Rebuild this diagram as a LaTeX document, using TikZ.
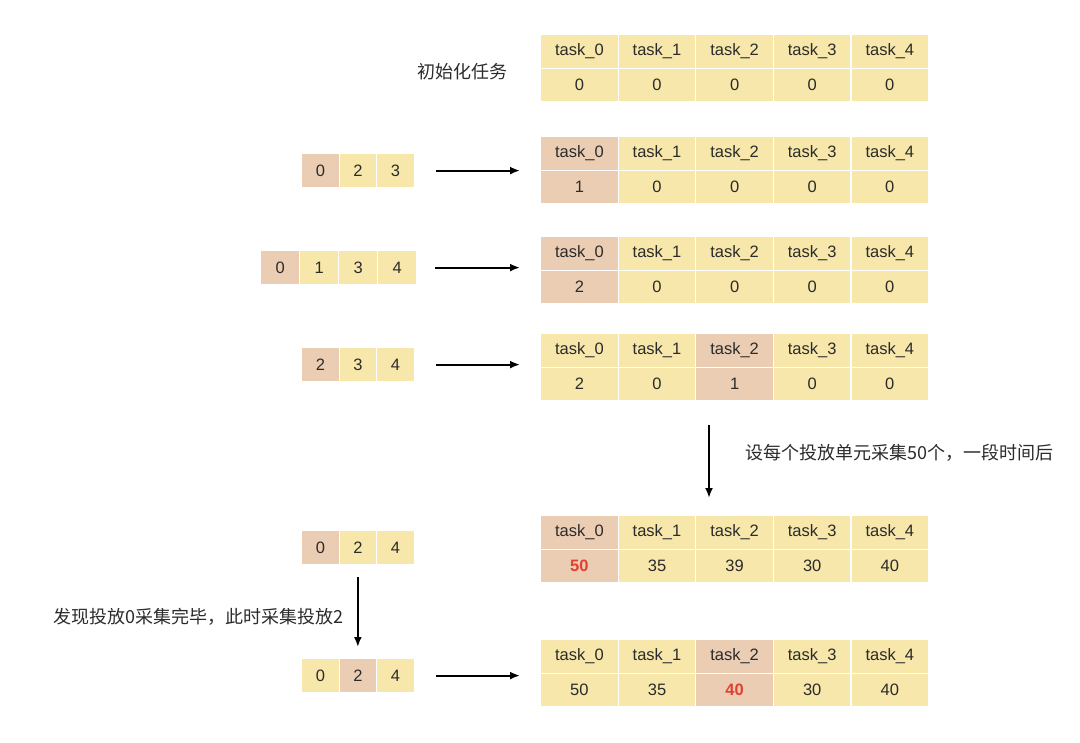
\documentclass[tikz,border=0pt]{standalone}
\usepackage{fontspec}
\setmainfont{Liberation Sans}
\newfontfamily\cjk{Noto Sans CJK SC}
\usetikzlibrary{arrows.meta}
\definecolor{cellY}{HTML}{F7E7AA}
\definecolor{cellP}{HTML}{EBCDB4}
\definecolor{txt}{HTML}{2B2B2B}
\definecolor{hot}{HTML}{E2412F}
\tikzset{
  cellbox/.style={draw=white, line width=1.2pt, minimum width=77.6pt, minimum height=33.6pt, inner sep=0pt, anchor=north west, text=txt, font=\fontsize{16.5}{19}\selectfont, fill=cellY},
  smallbox/.style={draw=white, line width=1.2pt, minimum width=37.5pt, minimum height=34pt, inner sep=0pt, anchor=north west, text=txt, font=\fontsize{16.5}{19}\selectfont, fill=cellY},
  pk/.style={fill=cellP},
  hl/.style={text=hot, font=\fontsize{16.5}{19}\selectfont\bfseries},
  note/.style={text=txt, font=\cjk\fontsize{18}{21}\selectfont, inner sep=0pt},
  arr/.style={line width=2pt, -{Latex[length=10pt,width=8pt]}},
}
\begin{document}
\begin{tikzpicture}[x=1pt,y=-1pt]
\useasboundingbox (0,0) rectangle (1080,743);
% Table 1
\foreach \i/\v in {0/0,1/0,2/0,3/0,4/0}{
  \node[cellbox] (t1h\i) at (540+77.6*\i,34) {task\_\i};
  \node[cellbox] (t1v\i) at (540+77.6*\i,67.6) {\v};
}
% Table 2
\foreach \i/\v/\s in {0/1/pk,1/0/,2/0/,3/0/,4/0/}{
  \node[cellbox,\s] (t2h\i) at (540+77.6*\i,136) {task\_\i};
  \node[cellbox,\s] (t2v\i) at (540+77.6*\i,169.6) {\v};
}
% Table 3
\foreach \i/\v/\s in {0/2/pk,1/0/,2/0/,3/0/,4/0/}{
  \node[cellbox,\s] (t3h\i) at (540+77.6*\i,236) {task\_\i};
  \node[cellbox,\s] (t3v\i) at (540+77.6*\i,269.6) {\v};
}
% Table 4
\foreach \i/\v/\s in {0/2/,1/0/,2/1/pk,3/0/,4/0/}{
  \node[cellbox,\s] (t4h\i) at (540+77.6*\i,333) {task\_\i};
  \node[cellbox,\s] (t4v\i) at (540+77.6*\i,366.6) {\v};
}
% Table 5
\foreach \i/\s in {0/pk,1/,2/,3/,4/}{
  \node[cellbox,\s] (t5h\i) at (540+77.6*\i,515) {task\_\i};
}
\node[cellbox,pk,hl] (t5v0) at (540,548.6) {50};
\foreach \i/\v in {1/35,2/39,3/30,4/40}{
  \node[cellbox] (t5v\i) at (540+77.6*\i,548.6) {\v};
}
% Table 6
\foreach \i/\s in {0/,1/,2/pk,3/,4/}{
  \node[cellbox,\s] (t6h\i) at (540+77.6*\i,639) {task\_\i};
}
\foreach \i/\v in {0/50,1/35,3/30,4/40}{
  \node[cellbox] (t6v\i) at (540+77.6*\i,672.6) {\v};
}
\node[cellbox,pk,hl] (t6v2) at (540+77.6*2,672.6) {40};

% small arrays
\foreach \i/\v/\s in {0/0/pk,1/2/,2/3/}{
  \node[smallbox,\s] (a1c\i) at (301+37.5*\i,153) {\v};
}
\foreach \i/\v/\s in {0/0/pk,1/1/,2/3/,3/4/}{
  \node[smallbox,\s,minimum width=39pt] (a2c\i) at (260+39*\i,250) {\v};
}
\foreach \i/\v/\s in {0/2/pk,1/3/,2/4/}{
  \node[smallbox,\s] (a3c\i) at (301+37.5*\i,347) {\v};
}
\foreach \i/\v/\s in {0/0/pk,1/2/,2/4/}{
  \node[smallbox,\s] (a4c\i) at (301+37.5*\i,530) {\v};
}
\foreach \i/\v/\s in {0/0/,1/2/pk,2/4/}{
  \node[smallbox,\s] (a5c\i) at (301+37.5*\i,658) {\v};
}

% labels
\node[note, anchor=west] (init) at (417,72) {初始化任务};
\node[note, anchor=west] (lblR) at (745,453) {设每个投放单元采集50个，一段时间后};
\node[note, anchor=west] (lblL) at (53,617) {发现投放0采集完毕，此时采集投放2};

% horizontal arrows
\draw[arr, shorten <=21pt, shorten >=20pt] (a1c2.east) -- (a1c2.east -| t2v0.west);
\draw[arr, shorten <=18pt, shorten >=20pt] (a2c3.east) -- (a2c3.east -| t3v0.west);
\draw[arr, shorten <=21pt, shorten >=20pt] (a3c2.east) -- (a3c2.east -| t4v0.west);
\draw[arr, shorten <=21pt, shorten >=20pt] (a5c2.east) -- (a5c2.east -| t6v0.west);

% vertical arrows
\coordinate (vR1) at (709,425);
\coordinate (vR2) at (709,498);
\draw[arr] (vR1) -- (vR2);
\draw[arr, shorten <=12pt, shorten >=11pt] (a4c1.south) -- (a5c1.north);
\end{tikzpicture}
\end{document}
